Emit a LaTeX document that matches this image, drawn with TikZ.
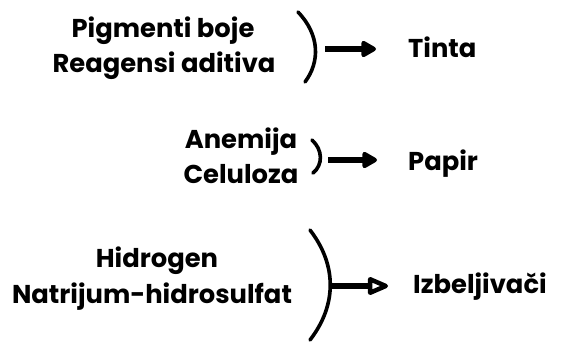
\documentclass[tikz,border=0pt]{standalone}
\usepackage{fontspec}
\setmainfont{Poppins}
\usetikzlibrary{arrows.meta}
\begin{document}
\begin{tikzpicture}[x=1pt,y=-1pt,
  lbl/.style={font=\fontsize{25.8}{30}\selectfont\bfseries, inner sep=0pt, anchor=base},
  tgt/.style={font=\fontsize{25.8}{30}\selectfont\bfseries, inner sep=0pt, anchor=base west},
  brk/.style={line width=3.6pt, line cap=round},
  arr/.style={line width=6pt, -{Triangle[length=17pt,width=18pt,round]}},
  arro/.style={line width=6pt, -{Triangle[open,length=24pt,width=19pt,line width=4.5pt,round]}}]
\useasboundingbox (0,0) rectangle (561,342);
% row 1
\node[lbl] (p1) at (163,38) {Pigmenti boje};
\node[lbl] (p2) at (164,73) {Reagensi aditiva};
\draw[brk] (298,12) .. controls (320,35) and (320,62) .. (305,82);
\coordinate (a1) at (325,49);
\node[tgt] (t1) at (408,58) {Tinta};
\draw[arr, shorten >=32pt] (a1) -- (a1 -| t1.west);
% row 2
\node[lbl] (q1) at (241,148) {Anemija};
\node[lbl] (q2) at (241,183) {Celuloza};
\draw[brk] (312,140) .. controls (323,150) and (323,165) .. (313,173);
\coordinate (a2) at (328,160);
\node[tgt] (t2) at (408,170) {Papir};
\draw[arr, shorten >=31pt] (a2) -- (a2 -| t2.west);
% row 3
\node[lbl] (r1) at (157,267) {Hidrogen};
\node[lbl] (r2) at (152,303) {Natrijum-hidrosulfat};
\draw[brk] (310,230) .. controls (337,265) and (337,305) .. (310,340);
\coordinate (a3) at (330,286);
\node[tgt] (t3) at (413,293) {Izbeljivači};
\draw[arro, shorten >=25pt] (a3) -- (a3 -| t3.west);
\end{tikzpicture}
\end{document}
